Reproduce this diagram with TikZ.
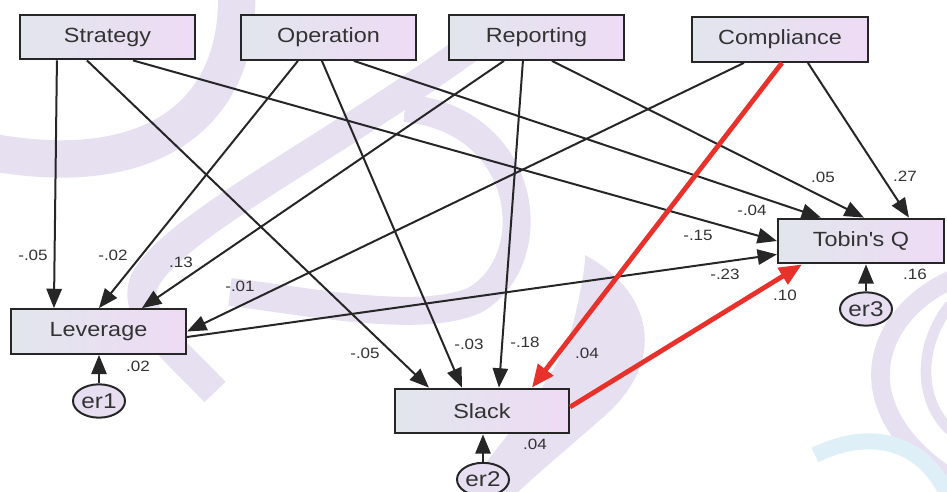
\documentclass[tikz,border=0pt]{standalone}
\usepackage{fontspec}
\setmainfont{Liberation Sans}[FakeStretch=1.14]
\usetikzlibrary{arrows.meta,calc,shapes.geometric}

\definecolor{boxL}{HTML}{E1E6EC}
\definecolor{boxR}{HTML}{EEDBF5}
\definecolor{ink}{HTML}{262626}
\definecolor{txt}{HTML}{333333}
\definecolor{hot}{HTML}{E8312B}
\definecolor{errfill}{HTML}{E7DFF1}
\definecolor{wm}{HTML}{E6E0F1}
\definecolor{wmblue}{HTML}{DFEFF7}

\begin{document}
\begin{tikzpicture}[x=0.75pt,y=-0.75pt,
  var/.style={draw=ink, line width=1.6pt, left color=boxL, right color=boxR,
    minimum height=33.5pt, inner sep=0pt, text=txt,
    font=\fontsize{15.4}{17}\selectfont},
  err/.style={ellipse, draw=ink, line width=1.5pt, fill=errfill,
    minimum width=39pt, minimum height=25pt, inner sep=0pt, text=txt,
    font=\fontsize{16}{18}\selectfont},
  arr/.style={draw=ink, line width=1.5pt, -{Triangle[length=14.5pt,width=11.5pt]}},
  hotarr/.style={draw=hot, line width=3.6pt, -{Triangle[length=17pt,width=14pt]}},
  coef/.style={inner sep=0pt, text=txt, font=\fontsize{11.2}{13}\selectfont},
]
\useasboundingbox (0,0) rectangle (947,492);

% faint logo swooshes in the background
\draw[wm, line width=28pt, line cap=round]
  (236,-20) .. controls (246,115) and (150,185) .. (-20,150);
\draw[wm, line width=22pt]
  (480,40) .. controls (330,150) and (175,225) .. (145,280)
  .. controls (130,315) and (175,350) .. (215,392);
\draw[wm, line width=21pt]
  (405,108) .. controls (530,120) and (545,260) .. (475,300)
  .. controls (420,325) and (300,300) .. (230,292);
\fill[wm] (585,255) .. controls (650,290) and (672,360) .. (600,420)
  .. controls (560,455) and (530,480) .. (515,495) -- (462,495)
  .. controls (500,440) and (560,380) .. (574,320)
  .. controls (581,290) and (585,270) .. cycle;
\draw[wm, line width=14pt]
  (955,278) .. controls (875,312) and (840,405) .. (950,478);
\draw[wm, line width=8pt]
  (950,305) .. controls (918,345) and (918,400) .. (950,430);
\draw[wmblue, line width=12pt]
  (815,455) .. controls (870,428) and (925,440) .. (950,500);

% observed variables
\node[var, minimum width=131.25pt] (str) at (107.5,37)  {Strategy};
\node[var, minimum width=131.25pt] (ope) at (328.5,37.5) {Operation};
\node[var, minimum width=131.25pt] (rep) at (536.5,37.5) {Reporting};
\node[var, minimum width=132pt]    (com) at (780,39.5)  {Compliance};
\node[var, minimum width=124.5pt]  (tob) at (861,241)   {Tobin\textquotesingle s Q};
\node[var, minimum width=131.25pt] (lev) at (98.5,331.5) {Leverage};
\node[var, minimum width=130.5pt]  (sla) at (482,411)   {Slack};

% error terms
\node[err] (er1) at (99,401)  {er1};
\node[err] (er2) at (483,479.5) {er2};
\node[err] (er3) at (866,309) {er3};

% paths into Leverage
\draw[arr] ($(str.south west)+(38,0)$)  -- ($(lev.north west)+(44,0)$);
\draw[arr] ($(ope.south west)+(58,0)$)  -- ($(lev.north west)+(89,0)$);
\draw[arr] ($(rep.south west)+(56,0)$)  -- ($(lev.north west)+(132,0)$);
\draw[arr] ($(com.south west)+(53,0)$)  -- (lev.east);

% paths into Slack
\draw[arr] ($(str.south west)+(68,0)$)  -- ($(sla.north west)+(35,0)$);
\draw[arr] ($(ope.south west)+(82,0)$)  -- ($(sla.north west)+(68,0)$);
\draw[arr] ($(rep.south west)+(75,0)$)  -- ($(sla.north west)+(105,0)$);

% paths into Tobin's Q
\draw[arr] ($(str.south west)+(114,0)$) -- (tob.west);
\draw[arr] ($(ope.south west)+(114,0)$) -- ($(tob.north west)+(44,0)$);
\draw[arr] ($(rep.south west)+(104,0)$) -- ($(tob.north west)+(87,0)$);
\draw[arr] ($(com.south west)+(117,0)$) -- ($(tob.north west)+(132,0)$);
\draw[arr] ($(lev.east)+(0,5.5)$) -- ($(tob.south west)+(0,-10)$);

% highlighted paths
\draw[hotarr] ($(com.south west)+(91,0)$) -- ($(sla.north west)+(138,0)$);
\draw[hotarr] ($(sla.east)+(0,-4)$) -- ($(tob.south west)+(25,0)$);

% disturbances
\draw[arr] (er1.north) -- (er1.north |- lev.south);
\draw[arr] (er2.north) -- (er2.north |- sla.south);
\draw[arr] (er3.north) -- (er3.north |- tob.south);

% path coefficients
\node[coef] (c1)  at (33,255)  {-.05};
\node[coef] (c2)  at (113,255) {-.02};
\node[coef] (c3)  at (181,262) {.13};
\node[coef] (c4)  at (240,286) {-.01};
\node[coef] (c5)  at (365,353) {-.05};
\node[coef] (c6)  at (469,344) {-.03};
\node[coef] (c7)  at (525,342) {-.18};
\node[coef] (c8)  at (587,353) {.04};
\node[coef] (c9)  at (725,274) {-.23};
\node[coef] (c10) at (785,295) {.10};
\node[coef] (c11) at (823,177) {.05};
\node[coef] (c12) at (905,176) {.27};
\node[coef] (c13) at (752,210) {-.04};
\node[coef] (c14) at (698,235) {-.15};

% squared multiple correlations
\node[coef] (r1) at (138,366) {.02};
\node[coef] (r2) at (535,444) {.04};
\node[coef] (r3) at (915,274) {.16};
\end{tikzpicture}
\end{document}
